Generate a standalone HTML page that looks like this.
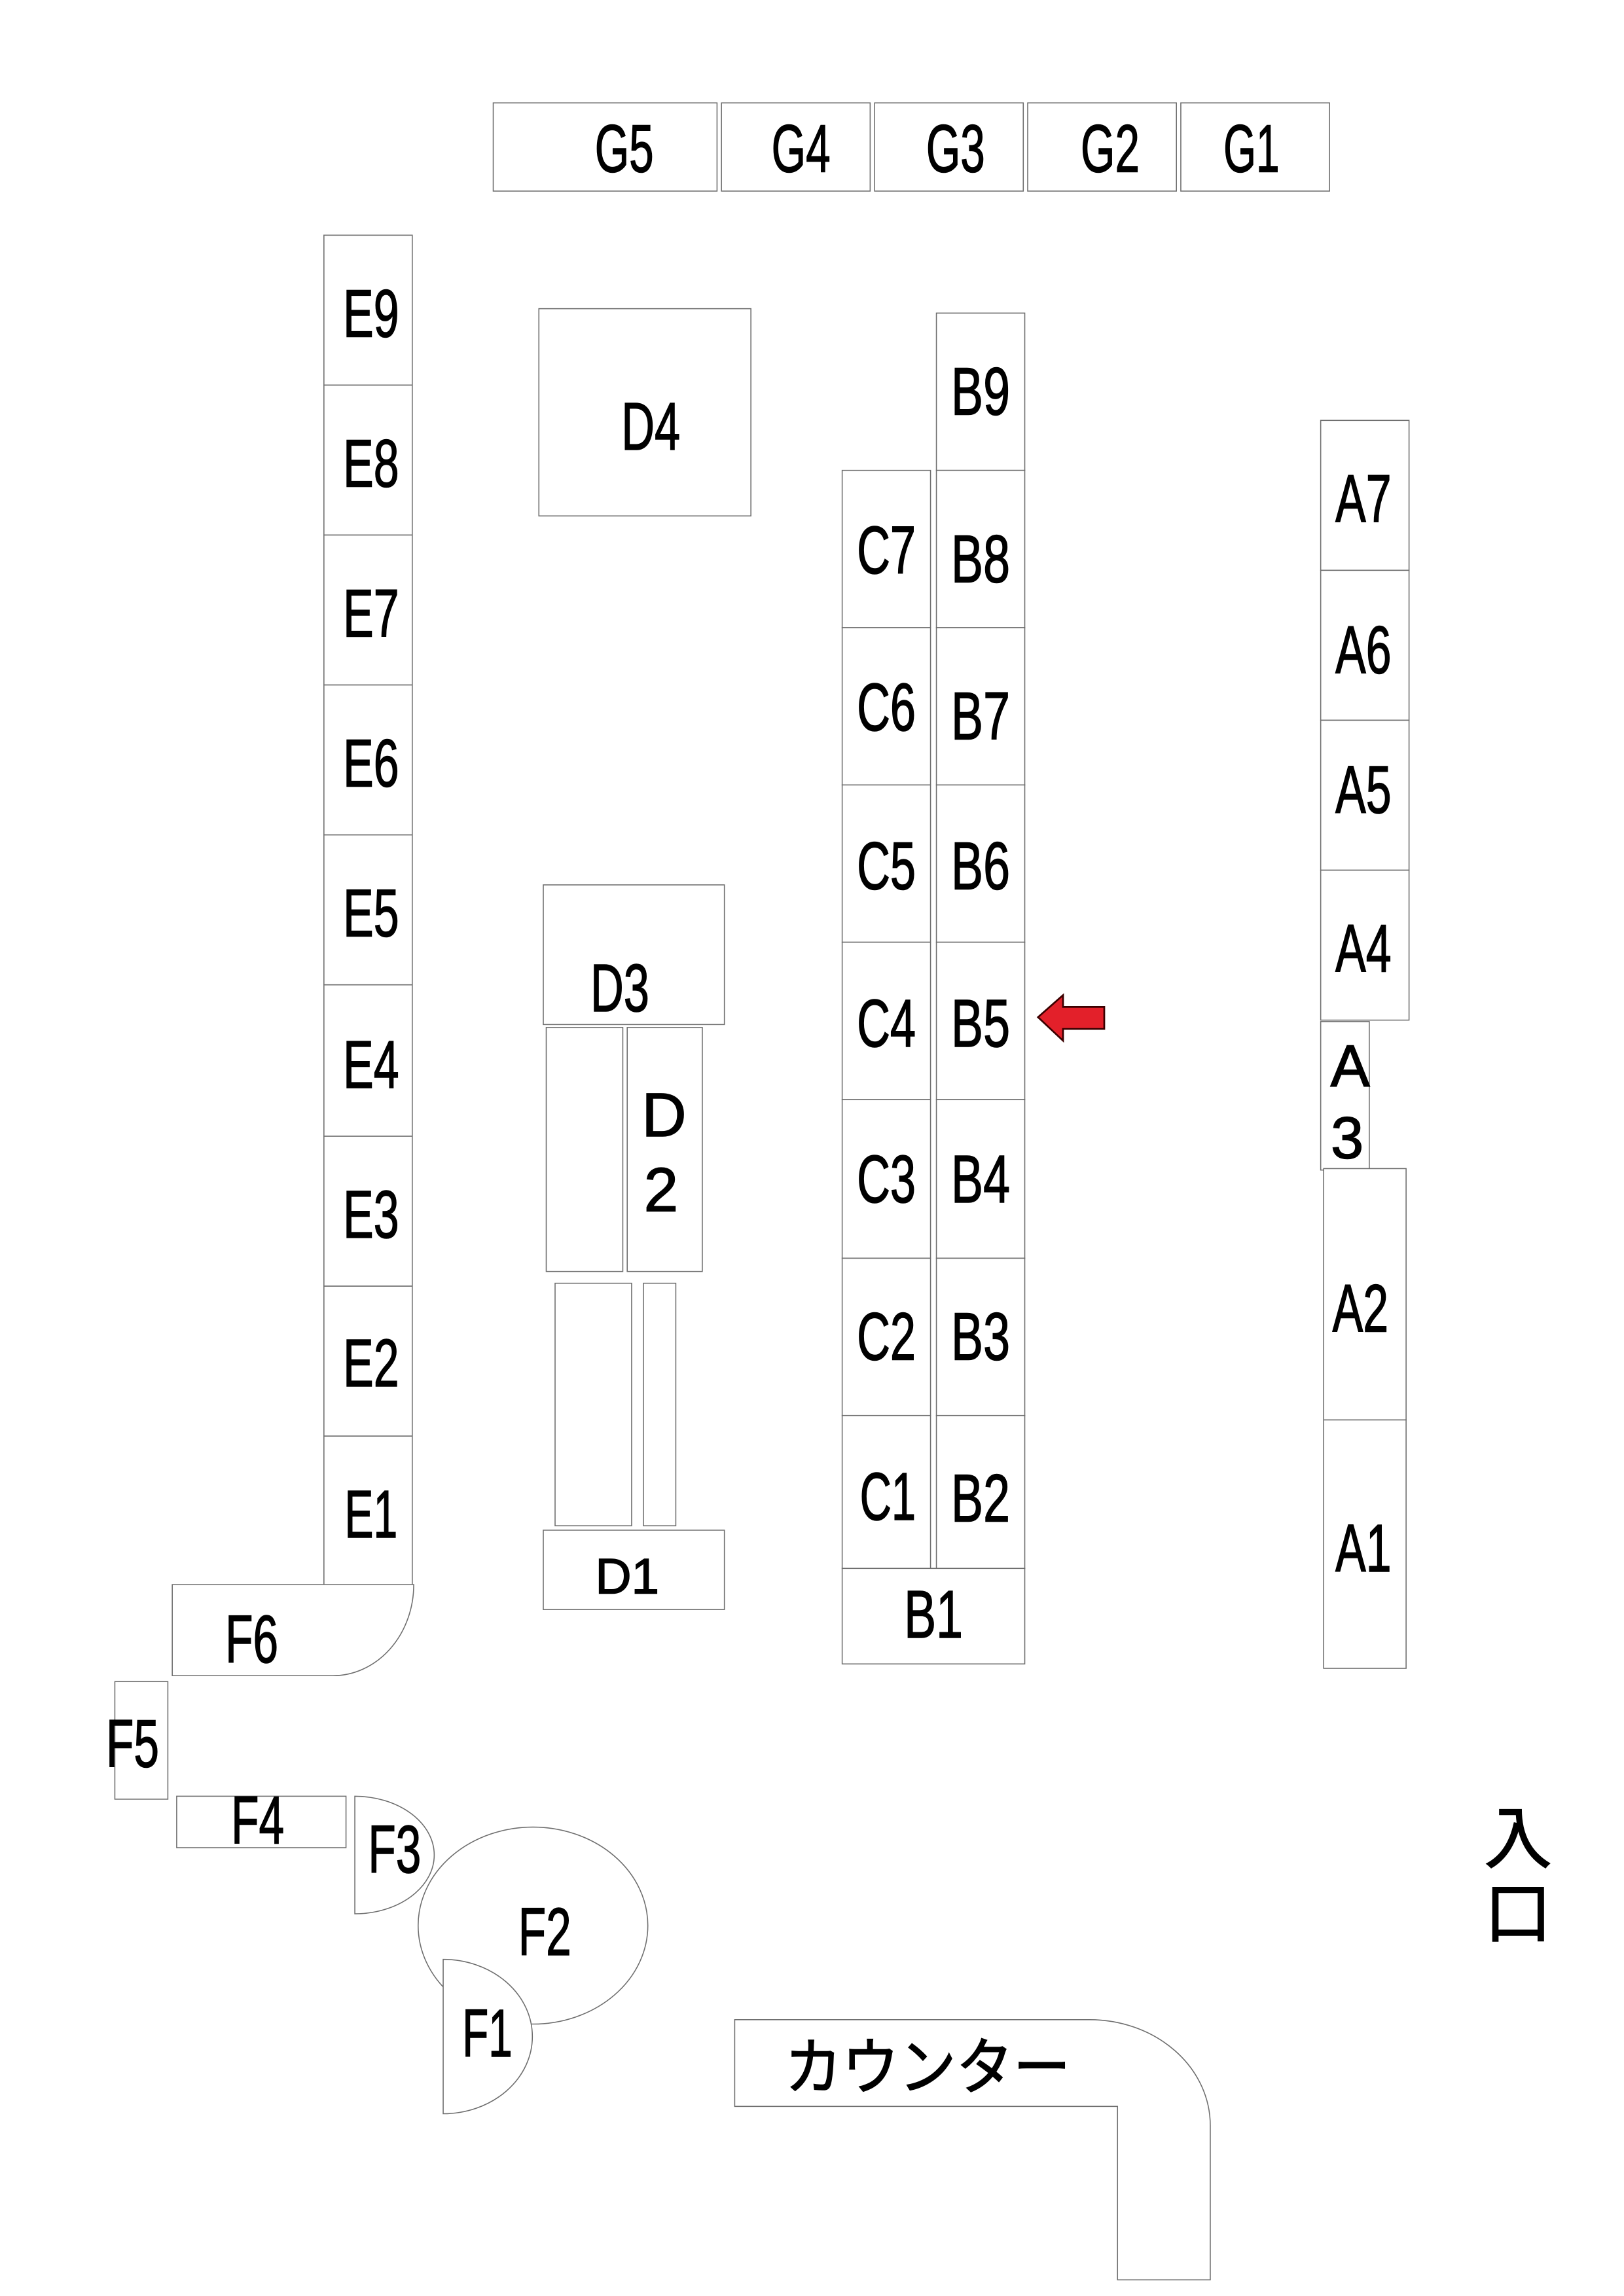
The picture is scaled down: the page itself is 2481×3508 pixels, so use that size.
<!DOCTYPE html>
<html><head><meta charset="utf-8"><style>
html,body{margin:0;padding:0;background:#fff;}
svg{display:block;}
text{font-family:"Liberation Sans","Noto Sans CJK JP",sans-serif;fill:#000;stroke:#000;stroke-width:0.7;}
</style></head><body>
<svg width="2481" height="3508" viewBox="0 0 1103 1562" preserveAspectRatio="none" xmlns="http://www.w3.org/2000/svg">
<g fill="#fff" stroke="#6e6e6e" stroke-width="0.7">
<rect x="335" y="70" width="152" height="60"/>
<rect x="490" y="70" width="101" height="60"/>
<rect x="594" y="70" width="101" height="60"/>
<rect x="698" y="70" width="101" height="60"/>
<rect x="802" y="70" width="101" height="60"/>
<rect x="220" y="160" width="60" height="102"/>
<rect x="220" y="262" width="60" height="102"/>
<rect x="220" y="364" width="60" height="102"/>
<rect x="220" y="466" width="60" height="102"/>
<rect x="220" y="568" width="60" height="102"/>
<rect x="220" y="670" width="60" height="103"/>
<rect x="220" y="773" width="60" height="102"/>
<rect x="220" y="875" width="60" height="102"/>
<rect x="220" y="977" width="60" height="102"/>
<rect x="366" y="210" width="144" height="141"/>
<rect x="369" y="602" width="123" height="95"/>
<rect x="371" y="699" width="52" height="166"/>
<rect x="426" y="699" width="51" height="166"/>
<rect x="377" y="873" width="52" height="165"/>
<rect x="437" y="873" width="22" height="165"/>
<rect x="369" y="1041" width="123" height="54"/>
<rect x="636" y="213" width="60" height="107"/>
<rect x="636" y="320" width="60" height="107"/>
<rect x="636" y="427" width="60" height="107"/>
<rect x="636" y="534" width="60" height="107"/>
<rect x="636" y="641" width="60" height="107"/>
<rect x="636" y="748" width="60" height="108"/>
<rect x="636" y="856" width="60" height="107"/>
<rect x="636" y="963" width="60" height="104"/>
<rect x="572" y="320" width="60" height="107"/>
<rect x="572" y="427" width="60" height="107"/>
<rect x="572" y="534" width="60" height="107"/>
<rect x="572" y="641" width="60" height="107"/>
<rect x="572" y="748" width="60" height="108"/>
<rect x="572" y="856" width="60" height="107"/>
<rect x="572" y="963" width="60" height="104"/>
<rect x="572" y="1067" width="124" height="65"/>
<rect x="897" y="286" width="60" height="102"/>
<rect x="897" y="388" width="60" height="102"/>
<rect x="897" y="490" width="60" height="102"/>
<rect x="897" y="592" width="60" height="102"/>
<rect x="897" y="695" width="33" height="101"/>
<rect x="899" y="795" width="56" height="171"/>
<rect x="899" y="966" width="56" height="169"/>
<path d="M117 1078 L281 1078 A55 62 0 0 1 226 1140 L117 1140 Z"/>
<rect x="78" y="1144" width="36" height="80"/>
<rect x="120" y="1222" width="115" height="35"/>
<path d="M241 1222 A54 40 0 0 1 241 1302 Z"/>
<ellipse cx="362" cy="1310" rx="78" ry="67"/>
<path d="M301 1333 A60 52 0 0 1 301 1438 Z"/>
<path d="M499 1374 L740 1374 A82 72 0 0 1 822 1446 L822 1551 L759 1551 L759 1433 L499 1433 Z"/>
</g>
<path d="M705 692 L722 677 L722 685 L750 685 L750 700 L722 700 L722 708 Z" fill="#e3202a" stroke="#3a0000" stroke-width="1.2"/>
<g font-size="46" text-anchor="middle">
<text x="424" y="117" textLength="40" lengthAdjust="spacingAndGlyphs">G5</text>
<text x="544" y="117" textLength="40" lengthAdjust="spacingAndGlyphs">G4</text>
<text x="649" y="117" textLength="40" lengthAdjust="spacingAndGlyphs">G3</text>
<text x="754" y="117" textLength="40" lengthAdjust="spacingAndGlyphs">G2</text>
<text x="850" y="117" textLength="38" lengthAdjust="spacingAndGlyphs">G1</text>
<text x="252" y="229" textLength="38" lengthAdjust="spacingAndGlyphs">E9</text>
<text x="252" y="331" textLength="38" lengthAdjust="spacingAndGlyphs">E8</text>
<text x="252" y="433" textLength="38" lengthAdjust="spacingAndGlyphs">E7</text>
<text x="252" y="535" textLength="38" lengthAdjust="spacingAndGlyphs">E6</text>
<text x="252" y="637" textLength="38" lengthAdjust="spacingAndGlyphs">E5</text>
<text x="252" y="740" textLength="38" lengthAdjust="spacingAndGlyphs">E4</text>
<text x="252" y="842" textLength="38" lengthAdjust="spacingAndGlyphs">E3</text>
<text x="252" y="943" textLength="38" lengthAdjust="spacingAndGlyphs">E2</text>
<text x="252" y="1046" textLength="36" lengthAdjust="spacingAndGlyphs">E1</text>
<text x="442" y="306" textLength="40" lengthAdjust="spacingAndGlyphs">D4</text>
<text x="421" y="688" textLength="40" lengthAdjust="spacingAndGlyphs">D3</text>
<text x="451" y="773" font-size="42">D</text>
<text x="449" y="824" font-size="42">2</text>
<text x="426" y="1084" font-size="34">D1</text>
<text x="666" y="282" textLength="40" lengthAdjust="spacingAndGlyphs">B9</text>
<text x="666" y="396" textLength="40" lengthAdjust="spacingAndGlyphs">B8</text>
<text x="666" y="503" textLength="40" lengthAdjust="spacingAndGlyphs">B7</text>
<text x="666" y="605" textLength="40" lengthAdjust="spacingAndGlyphs">B6</text>
<text x="666" y="712" textLength="40" lengthAdjust="spacingAndGlyphs">B5</text>
<text x="666" y="818" textLength="40" lengthAdjust="spacingAndGlyphs">B4</text>
<text x="666" y="925" textLength="40" lengthAdjust="spacingAndGlyphs">B3</text>
<text x="666" y="1035" textLength="40" lengthAdjust="spacingAndGlyphs">B2</text>
<text x="634" y="1114" textLength="40" lengthAdjust="spacingAndGlyphs">B1</text>
<text x="602" y="390" textLength="40" lengthAdjust="spacingAndGlyphs">C7</text>
<text x="602" y="497" textLength="40" lengthAdjust="spacingAndGlyphs">C6</text>
<text x="602" y="605" textLength="40" lengthAdjust="spacingAndGlyphs">C5</text>
<text x="602" y="712" textLength="40" lengthAdjust="spacingAndGlyphs">C4</text>
<text x="602" y="818" textLength="40" lengthAdjust="spacingAndGlyphs">C3</text>
<text x="602" y="925" textLength="40" lengthAdjust="spacingAndGlyphs">C2</text>
<text x="603" y="1034" textLength="38" lengthAdjust="spacingAndGlyphs">C1</text>
<text x="926" y="355" textLength="38" lengthAdjust="spacingAndGlyphs">A7</text>
<text x="926" y="458" textLength="38" lengthAdjust="spacingAndGlyphs">A6</text>
<text x="926" y="553" textLength="38" lengthAdjust="spacingAndGlyphs">A5</text>
<text x="926" y="661" textLength="38" lengthAdjust="spacingAndGlyphs">A4</text>
<text x="917" y="739" font-size="40">A</text>
<text x="915" y="788" font-size="40">3</text>
<text x="924" y="906" textLength="38" lengthAdjust="spacingAndGlyphs">A2</text>
<text x="926" y="1069" textLength="38" lengthAdjust="spacingAndGlyphs">A1</text>
<text x="171" y="1131" textLength="36" lengthAdjust="spacingAndGlyphs">F6</text>
<text x="90" y="1202" textLength="36" lengthAdjust="spacingAndGlyphs">F5</text>
<text x="175" y="1254" textLength="36" lengthAdjust="spacingAndGlyphs">F4</text>
<text x="268" y="1274" textLength="36" lengthAdjust="spacingAndGlyphs">F3</text>
<text x="370" y="1330" textLength="36" lengthAdjust="spacingAndGlyphs">F2</text>
<text x="331" y="1399" textLength="34" lengthAdjust="spacingAndGlyphs">F1</text>
</g>
<text x="533" y="1421" font-size="42" textLength="194" lengthAdjust="spacingAndGlyphs">カウンター</text>
<text x="1031" y="1267" font-size="46" text-anchor="middle">入</text>
<text x="1031" y="1318" font-size="46" text-anchor="middle">口</text>
</svg>
</body></html>
